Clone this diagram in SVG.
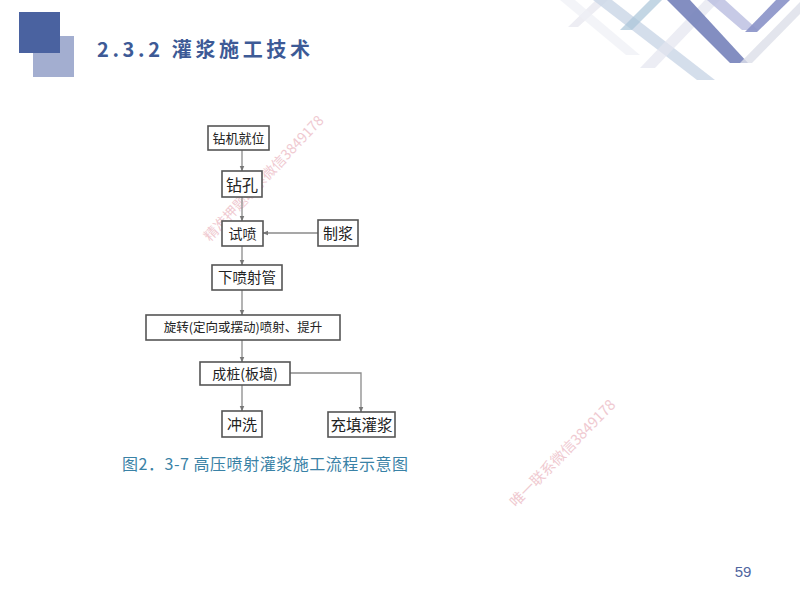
<svg xmlns="http://www.w3.org/2000/svg" width="800" height="600" viewBox="0 0 800 600">
<defs>
<marker id="arr" viewBox="0 0 10 10" refX="9" refY="5" markerWidth="6" markerHeight="6" orient="auto" markerUnits="userSpaceOnUse">
<path d="M0,1 L10,5 L0,9 z" fill="#777"/>
</marker>
</defs>
<style>
.box{fill:#fff;stroke:#555;stroke-width:1.6}
.lbl{font-family:"Noto Sans CJK SC","Noto Sans",sans-serif;fill:#222;text-anchor:middle}
.con{fill:none;stroke:#8a8a8a;stroke-width:1.3;marker-end:url(#arr)}
.wm{font-family:"Noto Sans CJK SC",sans-serif;fill:#eab3bd;opacity:0.7}
</style>
<rect width="800" height="600" fill="#fff"/>
<!-- header decoration -->
<g id="header">
<rect x="33" y="36" width="41" height="41" fill="#a3aed0"/>
<rect x="19" y="12" width="41" height="41" fill="#4a62a0"/>
<text x="97" y="57" font-family="'Noto Sans CJK SC','Noto Sans',sans-serif" font-size="20" font-weight="bold" fill="#3d5a96" textLength="213" lengthAdjust="spacing">2.3.2 灌浆施工技术</text>
</g>
<g id="stripes">
<polygon points="568,27 578,27 608,0 596,0" fill="#e8e8f0" opacity="0.8"/>
<polygon points="593,0 612,0 715,80 697,80" fill="#c9d6e6" opacity="0.8"/>
<polygon points="620,30 632,30 662,0 650,0" fill="#a9c4d8" opacity="0.7"/>
<polygon points="640,68 655,68 720,0 705,0" fill="#e4e6ef" opacity="0.7"/>
<polygon points="667,0 690,0 748,63 730,63" fill="#7682ba" opacity="0.9"/>
<polygon points="707,0 725,0 758,30 742,30" fill="#b9bde0" opacity="0.8"/>
<polygon points="745,32 757,32 790,0 776,0" fill="#8a92c8" opacity="0.9"/>
<polygon points="740,63 752,63 800,14 800,2" fill="#dcdfe9" opacity="0.8"/>
<polygon points="560,0 575,0 640,55 626,55" fill="#eef0f5" opacity="0.7"/>
</g>
<!-- watermarks -->
<text class="wm" font-size="14" transform="translate(210,242) rotate(-46.5)">精准押题联系微信3849178</text>
<text class="wm" font-size="14.5" transform="translate(516,508) rotate(-45.5)">唯一联系微信3849178</text>
<!-- connectors -->
<g id="connectors">
<line class="con" x1="242" y1="150" x2="242" y2="171"/>
<line class="con" x1="242" y1="197" x2="242" y2="221"/>
<line class="con" x1="318" y1="233" x2="263" y2="233"/>
<line class="con" x1="242" y1="246" x2="242" y2="265"/>
<line class="con" x1="242" y1="290" x2="242" y2="315"/>
<line class="con" x1="242" y1="340" x2="242" y2="362"/>
<line class="con" x1="242" y1="385" x2="242" y2="411"/>
<polyline class="con" points="290,373 361,373 361,412"/>
</g>
<!-- nodes -->
<g id="n1"><rect class="box" x="208" y="126" width="61" height="24"/><text class="lbl" x="238.5" y="143" font-size="13">钻机就位</text></g>
<g id="n2"><rect class="box" x="222" y="171" width="40" height="26"/><text class="lbl" x="242" y="190.5" font-size="16">钻孔</text></g>
<g id="n3"><rect class="box" x="222" y="221" width="41" height="25"/><text class="lbl" x="242.5" y="238.5" font-size="14">试喷</text></g>
<g id="n4"><rect class="box" x="318" y="220" width="40" height="26"/><text class="lbl" x="338" y="238.5" font-size="15">制浆</text></g>
<g id="n5"><rect class="box" x="212" y="265" width="70" height="25"/><text class="lbl" x="247" y="283" font-size="14.5">下喷射管</text></g>
<g id="n6"><rect class="box" x="146" y="315" width="194" height="25"/><text class="lbl" x="243" y="332" font-size="12.5">旋转(定向或摆动)喷射、提升</text></g>
<g id="n7"><rect class="box" x="200" y="362" width="90" height="23"/><text class="lbl" x="245" y="379" font-size="14">成桩(板墙)</text></g>
<g id="n8"><rect class="box" x="222" y="411" width="40" height="26"/><text class="lbl" x="242" y="430" font-size="15">冲洗</text></g>
<g id="n9"><rect class="box" x="328" y="412" width="67" height="25"/><text class="lbl" x="361.5" y="430.5" font-size="15.5">充填灌浆</text></g>
<!-- caption -->
<text x="122" y="470" font-family="'Noto Sans CJK SC',sans-serif" font-size="16" fill="#3a82a6" textLength="286" lengthAdjust="spacing">图2．3-7 高压喷射灌浆施工流程示意图</text>
<text x="743" y="577" font-family="'Liberation Sans',Arial,sans-serif" font-size="15" fill="#5066a0" text-anchor="middle">59</text>
</svg>
